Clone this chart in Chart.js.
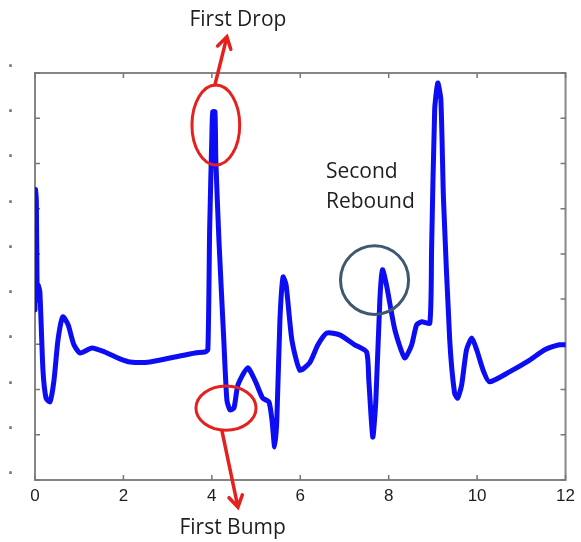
<!DOCTYPE html>
<html><head><meta charset="utf-8">
<script src="https://cdn.jsdelivr.net/npm/chart.js@4.4.1/dist/chart.umd.min.js"></script>
<style>html,body{margin:0;padding:0;background:#fff}#wrap{width:581px;height:542px}</style>
</head><body><div id="wrap"><canvas id="c" width="581" height="542"></canvas></div>
<script>
// ---- data ----
const timeValues = [0.00,0.01,0.03,0.05,0.07,0.11,0.18,0.25,0.34,0.43,0.52,0.63,0.75,0.88,1.02,1.29,1.58,1.92,2.15,2.60,3.16,3.62,3.84,3.91,3.95,4.00,4.02,4.07,4.09,4.16,4.27,4.34,4.41,4.50,4.59,4.81,4.99,5.15,5.29,5.36,5.42,5.47,5.54,5.61,5.68,5.81,5.99,6.21,6.40,6.60,6.89,7.23,7.50,7.55,7.64,7.71,7.80,7.86,7.95,8.14,8.36,8.52,8.63,8.75,8.93,8.97,9.04,9.11,9.18,9.24,9.38,9.49,9.56,9.65,9.76,9.88,9.99,10.15,10.28,10.73,11.19,11.53,11.86,12.00];
const signalValues = [3.76,6.42,6.19,3.98,4.31,4.16,2.43,1.81,1.73,2.21,3.10,3.61,3.43,2.99,2.81,2.92,2.83,2.68,2.61,2.61,2.72,2.81,2.83,2.88,5.53,7.59,8.14,8.14,7.08,5.31,3.10,1.77,1.55,1.59,2.10,2.48,2.17,1.81,1.73,1.33,0.73,1.33,3.54,4.49,4.31,3.10,2.43,2.59,2.99,3.25,3.21,2.99,2.83,2.21,0.95,1.77,3.98,4.65,4.31,3.32,2.70,2.99,3.43,3.50,3.47,5.09,8.19,8.78,8.41,6.19,3.10,1.92,1.81,2.10,2.88,3.14,2.88,2.39,2.17,2.39,2.65,2.88,2.99,2.99];
const xTickValues = [0,2,4,6,8,10,12];
const yTickValues = [0,1,2,3,4,5,6,7,8,9];
const yTickLabel = '·';

// annotations, in data units
const labelTexts = ['First Drop','First Bump','Second','Rebound'];
const labelX = [4.59, 4.47, 6.58, 6.58];
const labelY = [10.18, -1.06, 6.81, 6.15];
const labelAlign = ['center','center','left','left'];
const ellipseCX = [4.09, 4.32, 7.68];
const ellipseCY = [7.85, 1.59, 4.42];
const ellipseRX = [0.54, 0.68, 0.77];
const ellipseRY = [0.885, 0.49, 0.76];
const ellipseColor = ['#e3221f','#e3221f','#3d5870'];
const arrowFromX = [4.07, 4.23];
const arrowFromY = [8.74, 1.08];
const arrowToX = [4.34, 4.59];
const arrowToY = [9.80, -0.60];

const points = timeValues.map((t,i)=>({x:t, y:signalValues[i]}));

const framePlugin = {
  id:'frame',
  beforeDatasetsDraw(chart){
    const {ctx, chartArea:a, scales:{x,y}} = chart;
    ctx.save();
    ctx.strokeStyle='#868686'; ctx.lineWidth=2;
    ctx.strokeRect(a.left,a.top,a.right-a.left,a.bottom-a.top);
    ctx.lineWidth=1.5; ctx.strokeStyle='#777';
    ctx.beginPath();
    xTickValues.forEach(v=>{const p=x.getPixelForValue(v);
      ctx.moveTo(p,a.bottom);ctx.lineTo(p,a.bottom-5);
      ctx.moveTo(p,a.top);ctx.lineTo(p,a.top+5);});
    yTickValues.forEach(v=>{const p=y.getPixelForValue(v);
      ctx.moveTo(a.left,p);ctx.lineTo(a.left+5,p);
      ctx.moveTo(a.right,p);ctx.lineTo(a.right-5,p);});
    ctx.stroke();
    ctx.restore();
  },
  afterDraw(chart){
    const {ctx, scales:{x,y}} = chart;
    ctx.save();
    // ellipses
    ctx.lineWidth=3;
    ellipseCX.forEach((cx,i)=>{
      const px=x.getPixelForValue(cx), py=y.getPixelForValue(ellipseCY[i]);
      const rx=x.getPixelForValue(cx+ellipseRX[i])-px;
      const ry=py-y.getPixelForValue(ellipseCY[i]+ellipseRY[i]);
      ctx.strokeStyle=ellipseColor[i];
      ctx.beginPath();ctx.ellipse(px,py,rx,ry,0,0,Math.PI*2);ctx.stroke();
    });
    // arrows
    ctx.strokeStyle='#e3221f'; ctx.lineWidth=3.5; ctx.lineCap='round';
    arrowFromX.forEach((fx,i)=>{
      const x1=x.getPixelForValue(fx), y1=y.getPixelForValue(arrowFromY[i]);
      const x2=x.getPixelForValue(arrowToX[i]), y2=y.getPixelForValue(arrowToY[i]);
      const ang=Math.atan2(y2-y1,x2-x1), L=13, s=0.55;
      ctx.beginPath();ctx.moveTo(x1,y1);ctx.lineTo(x2,y2);
      ctx.moveTo(x2-L*Math.cos(ang-s),y2-L*Math.sin(ang-s));ctx.lineTo(x2,y2);
      ctx.lineTo(x2-L*Math.cos(ang+s),y2-L*Math.sin(ang+s));
      ctx.stroke();
    });
    // labels
    ctx.fillStyle='#1e1e1e'; ctx.font='21px "Open Sans", sans-serif'; ctx.textBaseline='middle';
    labelTexts.forEach((t,i)=>{
      ctx.textAlign=labelAlign[i];
      ctx.fillText(t,x.getPixelForValue(labelX[i]),y.getPixelForValue(labelY[i]));
    });
    ctx.restore();
  }
};

new Chart(document.getElementById('c'),{
  type:'scatter',
  data:{datasets:[{data:points,showLine:true,pointRadius:0,borderColor:'#0c0cf5',borderWidth:5,tension:0.2,borderJoinStyle:'round',borderCapStyle:'round'}]},
  options:{
    responsive:false, animation:false, devicePixelRatio:1,
    layout:{padding:{top:73,right:15,left:0,bottom:0}},
    plugins:{legend:{display:false},tooltip:{enabled:false}},
    scales:{
      x:{type:'linear',min:0,max:12,
        afterBuildTicks(s){s.ticks=xTickValues.map(v=>({value:v}));},
        afterFit(s){s.height=62;},
        grid:{display:false,drawTicks:false},border:{display:false},
        ticks:{color:'#1e1e1e',padding:6,font:{size:17,family:'"Liberation Sans", Arial, sans-serif'},maxRotation:0}},
      y:{type:'linear',min:0,max:9,
        afterBuildTicks(s){s.ticks=yTickValues.map(v=>({value:v}));},
        afterFit(s){s.width=35;},
        grid:{display:false,drawTicks:false},border:{display:false},
        ticks:{color:'#777',padding:21,labelOffset:-6,font:{size:18,weight:'bold'},callback:()=>yTickLabel}}
    }
  },
  plugins:[framePlugin]
});
</script></body></html>
